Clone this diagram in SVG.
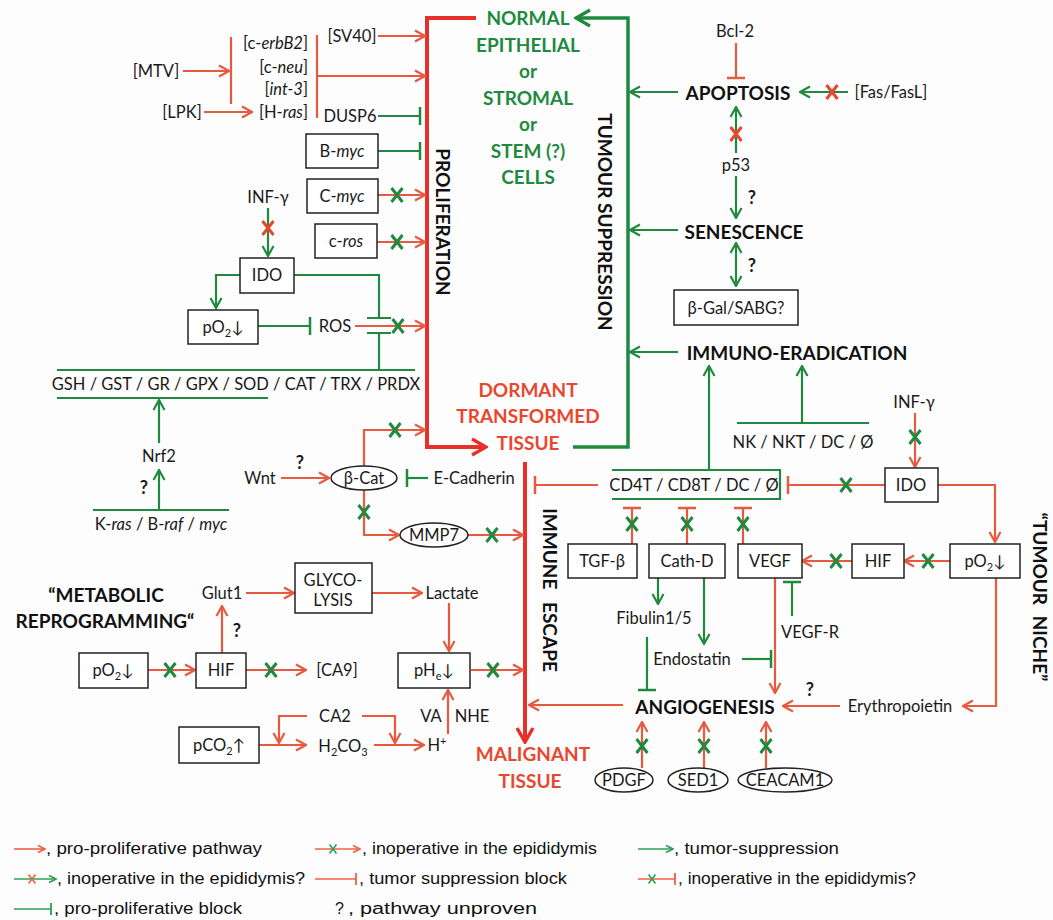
<svg xmlns="http://www.w3.org/2000/svg" width="1053" height="920" viewBox="0 0 1053 920">
<defs>
<style>
text{font-family:Lato,"Open Sans","Liberation Sans",sans-serif;font-size:16.5px;fill:#1a1a1a;dominant-baseline:central;text-anchor:middle}
.q{font-weight:bold;font-size:18px}
.hg{font-weight:bold;font-size:19px;fill:#1f8a3f}
.hr{font-weight:bold;font-size:19px;fill:#e8472f}
.hk{font-weight:bold;font-size:19px;fill:#111}
.box{fill:#fff;stroke:#222;stroke-width:1.5}
.r{stroke:#e85a40;stroke-width:2.2;fill:none}
.g{stroke:#1f8a3f;stroke-width:2.2;fill:none}
.R{stroke:#e8302a;stroke-width:4;fill:none}
.G{stroke:#1f8a3f;stroke-width:3.5;fill:none}
.lr{stroke:#f0604a;stroke-width:1.6;fill:none}
.lgg{stroke:#2aa050;stroke-width:1.6;fill:none}
.lg{font-family:"Liberation Sans",Arial,sans-serif;font-size:16px;text-anchor:start;fill:#111}
.ar{marker-end:url(#ar)}
.ag{marker-end:url(#ag)}
.br{marker-end:url(#br)}
.bg{marker-end:url(#bg)}
</style>
<marker id="ar" viewBox="0 0 14 14" refX="13" refY="7" markerWidth="14" markerHeight="14" orient="auto-start-reverse" markerUnits="userSpaceOnUse"><path d="M3,1.5 L13,7 L3,12.5" fill="none" stroke="#e85a40" stroke-width="2.2"/></marker>
<marker id="ag" viewBox="0 0 14 14" refX="13" refY="7" markerWidth="14" markerHeight="14" orient="auto-start-reverse" markerUnits="userSpaceOnUse"><path d="M3,1.5 L13,7 L3,12.5" fill="none" stroke="#1f8a3f" stroke-width="2.2"/></marker>
<marker id="AR" viewBox="0 0 20 20" refX="18" refY="10" markerWidth="20" markerHeight="20" orient="auto" markerUnits="userSpaceOnUse"><path d="M4,2 L18,10 L4,18" fill="none" stroke="#e8302a" stroke-width="3.5"/></marker>
<marker id="AG" viewBox="0 0 20 20" refX="18" refY="10" markerWidth="20" markerHeight="20" orient="auto" markerUnits="userSpaceOnUse"><path d="M4,2 L18,10 L4,18" fill="none" stroke="#1f8a3f" stroke-width="3.2"/></marker>
<marker id="br" viewBox="0 0 4 20" refX="2" refY="10" markerWidth="4" markerHeight="20" orient="auto" markerUnits="userSpaceOnUse"><path d="M2,1 V19" stroke="#e85a40" stroke-width="2.5"/></marker>
<marker id="bg" viewBox="0 0 4 20" refX="2" refY="10" markerWidth="4" markerHeight="20" orient="auto" markerUnits="userSpaceOnUse"><path d="M2,1 V19" stroke="#1f8a3f" stroke-width="2.5"/></marker>
<marker id="lar" viewBox="0 0 10 10" refX="9" refY="5" markerWidth="10" markerHeight="10" orient="auto" markerUnits="userSpaceOnUse"><path d="M2,1.5 L9,5 L2,8.5" fill="none" stroke="#f0604a" stroke-width="1.6"/></marker>
<marker id="lag" viewBox="0 0 10 10" refX="9" refY="5" markerWidth="10" markerHeight="10" orient="auto" markerUnits="userSpaceOnUse"><path d="M2,1.5 L9,5 L2,8.5" fill="none" stroke="#2aa050" stroke-width="1.6"/></marker>
<marker id="lbr" viewBox="0 0 4 14" refX="2" refY="7" markerWidth="4" markerHeight="14" orient="auto" markerUnits="userSpaceOnUse"><path d="M2,1 V13" stroke="#f0604a" stroke-width="1.8"/></marker>
<marker id="lbg" viewBox="0 0 4 14" refX="2" refY="7" markerWidth="4" markerHeight="14" orient="auto" markerUnits="userSpaceOnUse"><path d="M2,1 V13" stroke="#2aa050" stroke-width="1.8"/></marker>
<g id="gx"><path d="M-5.5,-7 L5.5,7 M5.5,-7 L-5.5,7" stroke="#1f8a3f" stroke-width="3" fill="none"/></g>
<g id="rx"><path d="M-5.5,-7 L5.5,7 M5.5,-7 L-5.5,7" stroke="#e8472f" stroke-width="3" fill="none"/></g>
<g id="sgx"><path d="M-3.5,-4.5 L3.5,4.5 M3.5,-4.5 L-3.5,4.5" stroke="#2aa050" stroke-width="1.6" fill="none"/></g>
<g id="srx"><path d="M-3.5,-4.5 L3.5,4.5 M3.5,-4.5 L-3.5,4.5" stroke="#f0604a" stroke-width="1.6" fill="none"/></g>
</defs>
<rect width="1053" height="920" fill="#fdfdfd"/>

<g id="connectors">
<path class="R" d="M476,18 H427 V447 H486" marker-end="url(#AR)"/>
<path class="R" d="M525,462 V742" marker-end="url(#AR)"/>
<path class="G" d="M573,447 H628 V18 H576" marker-end="url(#AG)"/>
<path class="g ag" d="M678,92 H630"/>
<path class="g ag" d="M678,230 H630"/>
<path class="g ag" d="M678,352 H630"/>
<path class="r br" d="M736,43 V78"/>
<path class="g ag" d="M848,92 H800"/>
<use href="#rx" x="832" y="92"/>
<path class="g ag" d="M736,153 V107"/>
<use href="#rx" x="736" y="134"/>
<path class="g ag" d="M736,176 V218"/>
<path class="g" d="M736,243 V286" marker-start="url(#ag)" marker-end="url(#ag)"/>
<path class="g ag" d="M709,469 V366"/>
<path class="g ag" d="M802,423 V366"/>
<path class="g" d="M737,423 H869"/>
<path class="g" d="M612,470 H780 V499 H612"/>
<path class="r br" d="M598,485 H535"/>
<path class="r br" d="M885,485 H788"/>
<use href="#gx" x="846" y="485"/>
<path class="r ar" d="M915,413 V467"/>
<use href="#gx" x="915" y="437"/>
<path class="r ar" d="M938,485 H995 V542"/>
<path class="r ar" d="M950,561 H904"/>
<use href="#gx" x="928" y="561"/>
<path class="r ar" d="M852,561 H802"/>
<use href="#gx" x="836" y="561"/>
<path class="r br" d="M632,544 V508"/>
<use href="#gx" x="632" y="524"/>
<path class="r br" d="M687,544 V508"/>
<use href="#gx" x="687" y="524"/>
<path class="r br" d="M743,544 V508"/>
<use href="#gx" x="743" y="524"/>
<path class="g ag" d="M658,578 V604"/>
<path class="g ag" d="M704,578 V644"/>
<path class="g bg" d="M647,637 V690"/>
<path class="g bg" d="M742,659 H771"/>
<path class="r ar" d="M775,578 V693"/>
<path class="g bg" d="M792,616 V582"/>
<path class="r ar" d="M623,705 H529"/>
<path class="r ar" d="M840,706 H783"/>
<path class="r ar" d="M996,578 V706 H963"/>
<path class="r ar" d="M642,768 V722"/>
<use href="#gx" x="642" y="746"/>
<path class="r ar" d="M704,768 V722"/>
<use href="#gx" x="704" y="746"/>
<path class="r ar" d="M766,768 V722"/>
<use href="#gx" x="766" y="746"/>
<path class="r ar" d="M378,36 H425"/>
<path class="r ar" d="M317,76 H425"/>
<path class="r" d="M317,35 V118"/>
<path class="r ar" d="M183,71 H229"/>
<path class="r" d="M231,37 V104"/>
<path class="r ar" d="M204,112 H252"/>
<path class="g bg" d="M378,116 H420"/>
<path class="g bg" d="M378,151 H420"/>
<path class="r ar" d="M378,195 H425"/>
<use href="#gx" x="397" y="195"/>
<path class="r ar" d="M377,242 H425"/>
<use href="#gx" x="397" y="242"/>
<path class="g ag" d="M268,208 V256"/>
<use href="#rx" x="268" y="228"/>
<path class="g ag" d="M240,275 H216 V308"/>
<path class="g" d="M294,275 H379 V318 M367,318 H391"/>
<path class="g" d="M379,370 V333 M367,333 H391"/>
<path class="r ar" d="M355,326 H425"/>
<use href="#gx" x="398" y="326"/>
<path class="g bg" d="M258,326 H310"/>
<path class="g" d="M57,370 H415 M57,398 H268"/>
<path class="g ag" d="M159,443 V400"/>
<path class="g ag" d="M159,510 V470"/>
<path class="g" d="M93,510 H229"/>
<path class="r ar" d="M281,478 H329"/>
<path class="g bg" d="M428,478 H407"/>
<path class="r ar" d="M364,466 V430 H425"/>
<use href="#gx" x="395" y="430"/>
<path class="r ar" d="M364,490 V535 H399"/>
<use href="#gx" x="364" y="512"/>
<path class="r ar" d="M468,535 H523"/>
<use href="#gx" x="492" y="535"/>
<path class="r ar" d="M246,593 H294"/>
<path class="r ar" d="M372,593 H422"/>
<path class="r ar" d="M449,603 V651"/>
<path class="r ar" d="M471,670 H523"/>
<use href="#gx" x="493" y="670"/>
<path class="r ar" d="M222,653 V606"/>
<path class="r ar" d="M148,670 H195"/>
<use href="#gx" x="170" y="670"/>
<path class="r ar" d="M246,670 H306"/>
<use href="#gx" x="271" y="670"/>
<path class="r ar" d="M307,716 H279 V743"/>
<path class="r ar" d="M362,716 H395 V743"/>
<path class="r ar" d="M259,745 H306"/>
<path class="r ar" d="M374,745 H424"/>
<path class="r ar" d="M448,734 V690"/>
</g>

<g id="normal-cells">
<text class="hg" x="528" y="17">NORMAL</text>
<text class="hg" x="528" y="44">EPITHELIAL</text>
<text class="hg" x="528" y="70">or</text>
<text class="hg" x="528" y="97">STROMAL</text>
<text class="hg" x="528" y="123">or</text>
<text class="hg" x="528" y="150">STEM (?)</text>
<text class="hg" x="528" y="176">CELLS</text>
</g>
<g id="proliferation"><text class="hk" transform="translate(443,222) rotate(90)">PROLIFERATION</text></g>
<g id="tumour-suppression"><text class="hk" transform="translate(605,222) rotate(90)">TUMOUR SUPPRESSION</text></g>
<g id="dormant">
<text class="hr" x="528" y="389">DORMANT</text>
<text class="hr" x="528" y="415">TRANSFORMED</text>
<text class="hr" x="528" y="442">TISSUE</text>
</g>
<g id="immune-escape"><text class="hk" transform="translate(550,590) rotate(90)" style="word-spacing:8px">IMMUNE ESCAPE</text></g>
<g id="malignant">
<text class="hr" x="533" y="753">MALIGNANT</text>
<text class="hr" x="530" y="780">TISSUE</text>
</g>

<g id="mtv"><text x="156" y="71">[MTV]</text></g>
<g id="lpk"><text x="182" y="112">[LPK]</text></g>
<g id="oncogenes">
<text x="308" y="43" style="text-anchor:end">[c-<tspan font-style="italic">erbB2</tspan>]</text>
<text x="308" y="67" style="text-anchor:end">[c-<tspan font-style="italic">neu</tspan>]</text>
<text x="308" y="89" style="text-anchor:end">[<tspan font-style="italic">int-3</tspan>]</text>
<text x="308" y="112" style="text-anchor:end">[H-<tspan font-style="italic">ras</tspan>]</text>
</g>
<g id="sv40"><text x="352" y="36">[SV40]</text></g>
<g id="dusp6"><text x="350" y="116">DUSP6</text></g>
<g id="b-myc"><rect class="box" x="306" y="134" width="72" height="34"/><text x="342" y="151">B-<tspan font-style="italic">myc</tspan></text></g>
<g id="c-myc"><rect class="box" x="307" y="179" width="71" height="34"/><text x="342" y="196">C-<tspan font-style="italic">myc</tspan></text></g>
<g id="c-ros"><rect class="box" x="315" y="224" width="62" height="34"/><text x="346" y="241">c-<tspan font-style="italic">ros</tspan></text></g>
<g id="inf-left"><text x="268" y="197">INF-γ</text></g>
<g id="ido-left"><rect class="box" x="240" y="258" width="54" height="35"/><text x="267" y="275">IDO</text></g>
<g id="po2-left"><rect class="box" x="188" y="310" width="70" height="34"/><text x="223" y="327">pO<tspan dy="5" font-size="11">2</tspan><tspan dy="-5">↓</tspan></text></g>
<g id="ros"><text x="335" y="326">ROS</text></g>
<g id="gsh"><text x="236" y="384">GSH / GST / GR / GPX / SOD / CAT / TRX / PRDX</text></g>
<g id="nrf2"><text x="159" y="456">Nrf2</text><text class="q" x="144" y="487">?</text></g>
<g id="kras"><text x="161" y="524">K-<tspan font-style="italic">ras</tspan> / B-<tspan font-style="italic">raf</tspan> / <tspan font-style="italic">myc</tspan></text></g>
<g id="wnt"><text x="260" y="478">Wnt</text><text class="q" x="300" y="462">?</text></g>
<g id="bcat"><ellipse cx="364" cy="478" rx="33" ry="12" fill="#fff" stroke="#222" stroke-width="1.5"/><text x="364" y="478">β-Cat</text></g>
<g id="ecadherin"><text x="474" y="478">E-Cadherin</text></g>
<g id="mmp7"><ellipse cx="434" cy="535" rx="34" ry="12" fill="#fff" stroke="#222" stroke-width="1.5"/><text x="434" y="535">MMP7</text></g>

<g id="metabolic">
<text class="hk" x="106" y="594">“METABOLIC</text>
<text class="hk" x="105" y="620">REPROGRAMMING“</text>
</g>
<g id="glut1"><text x="222" y="593">Glut1</text><text class="q" x="237" y="630">?</text></g>
<g id="glycolysis"><rect class="box" x="295" y="563" width="77" height="50"/><text x="333" y="580">GLYCO-</text><text x="333" y="600">LYSIS</text></g>
<g id="lactate"><text x="452" y="593">Lactate</text></g>
<g id="phe"><rect class="box" x="398" y="653" width="72" height="35"/><text x="434" y="670">pH<tspan dy="5" font-size="11">e</tspan><tspan dy="-5">↓</tspan></text></g>
<g id="po2-bottom"><rect class="box" x="79" y="653" width="69" height="35"/><text x="113" y="670">pO<tspan dy="5" font-size="11">2</tspan><tspan dy="-5">↓</tspan></text></g>
<g id="hif-left"><rect class="box" x="196" y="653" width="50" height="35"/><text x="221" y="670">HIF</text></g>
<g id="ca9"><text x="337" y="670">[CA9]</text></g>
<g id="ca2"><text x="335" y="716">CA2</text></g>
<g id="pco2"><rect class="box" x="179" y="727" width="80" height="36"/><text x="219" y="745">pCO<tspan dy="5" font-size="11">2</tspan><tspan dy="-5">↑</tspan></text></g>
<g id="h2co3"><text x="343" y="746">H<tspan dy="5" font-size="11">2</tspan><tspan dy="-5">CO</tspan><tspan dy="5" font-size="11">3</tspan></text></g>
<g id="hplus"><text x="437" y="745">H<tspan dy="-5" font-size="11">+</tspan></text></g>
<g id="va-nhe"><text x="431" y="716">VA</text><text x="472" y="716">NHE</text></g>

<g id="bcl2"><text x="735" y="31">Bcl-2</text></g>
<g id="apoptosis"><text class="hk" x="738" y="92">APOPTOSIS</text></g>
<g id="fas"><text x="891" y="92">[Fas/FasL]</text></g>
<g id="p53"><text x="736" y="165">p53</text><text class="q" x="752" y="197">?</text></g>
<g id="senescence"><text class="hk" x="744" y="231">SENESCENCE</text><text class="q" x="752" y="265">?</text></g>
<g id="bgal"><rect class="box" x="674" y="290" width="124" height="35"/><text x="736" y="308">β-Gal/SABG?</text></g>
<g id="immuno-eradication"><text class="hk" x="797" y="352">IMMUNO-ERADICATION</text></g>
<g id="nk"><text x="803" y="442">NK / NKT / DC / Ø</text></g>
<g id="inf-right"><text x="914" y="402">INF-γ</text></g>
<g id="ido-right"><rect class="box" x="885" y="468" width="53" height="34"/><text x="911" y="485">IDO</text></g>
<g id="cd4t"><text x="694" y="485">CD4T / CD8T / DC / Ø</text></g>
<g id="po2-right"><rect class="box" x="950" y="544" width="70" height="34"/><text x="985" y="561">pO<tspan dy="5" font-size="11">2</tspan><tspan dy="-5">↓</tspan></text></g>
<g id="hif-right"><rect class="box" x="852" y="544" width="52" height="34"/><text x="878" y="561">HIF</text></g>
<g id="vegf"><rect class="box" x="738" y="544" width="64" height="34"/><text x="770" y="561">VEGF</text></g>
<g id="cathd"><rect class="box" x="649" y="544" width="76" height="34"/><text x="687" y="561">Cath-D</text></g>
<g id="tgfb"><rect class="box" x="568" y="544" width="69" height="34"/><text x="602" y="561">TGF-β</text></g>
<g id="fibulin"><text x="654" y="618">Fibulin1/5</text></g>
<g id="endostatin"><text x="692" y="659">Endostatin</text></g>
<g id="vegfr"><text x="810" y="632">VEGF-R</text></g>
<g id="angiogenesis"><text class="hk" x="705" y="706">ANGIOGENESIS</text><text class="q" x="810" y="689">?</text></g>
<g id="erythropoietin"><text x="900" y="706">Erythropoietin</text></g>
<g id="pdgf"><ellipse cx="624" cy="780" rx="29" ry="12" fill="#fff" stroke="#222" stroke-width="1.5"/><text x="624" y="780">PDGF</text></g>
<g id="sed1"><ellipse cx="698" cy="780" rx="30" ry="12" fill="#fff" stroke="#222" stroke-width="1.5"/><text x="698" y="780">SED1</text></g>
<g id="ceacam1"><ellipse cx="785" cy="780" rx="47" ry="12" fill="#fff" stroke="#222" stroke-width="1.5"/><text x="785" y="780">CEACAM1</text></g>
<g id="tumour-niche"><text class="hk" transform="translate(1040,597) rotate(90)" style="word-spacing:6px">“TUMOUR NICHE”</text></g>

<g id="legend">
<path class="lr" d="M14,849 H45" marker-end="url(#lar)"/>
<text class="lg" x="46" y="848" textLength="216" lengthAdjust="spacingAndGlyphs">, pro-proliferative pathway</text>
<path class="lr" d="M315,849 H360" marker-end="url(#lar)"/>
<use href="#sgx" x="333" y="849"/>
<text class="lg" x="362" y="848" textLength="235" lengthAdjust="spacingAndGlyphs">, inoperative in the epididymis</text>
<path class="lgg" d="M638,849 H673" marker-end="url(#lag)"/>
<text class="lg" x="674" y="848" textLength="165" lengthAdjust="spacingAndGlyphs">, tumor-suppression</text>
<path class="lgg" d="M14,879 H56" marker-end="url(#lag)"/>
<use href="#srx" x="32" y="879"/>
<text class="lg" x="57" y="878" textLength="248" lengthAdjust="spacingAndGlyphs">, inoperative in the epididymis?</text>
<path class="lr" d="M315,879 H356" marker-end="url(#lbr)"/>
<text class="lg" x="359" y="878" textLength="208" lengthAdjust="spacingAndGlyphs">, tumor suppression block</text>
<path class="lr" d="M638,879 H675" marker-end="url(#lbr)"/>
<use href="#sgx" x="652" y="879"/>
<text class="lg" x="678" y="878" textLength="238" lengthAdjust="spacingAndGlyphs">, inoperative in the epididymis?</text>
<path class="lgg" d="M14,909 H51" marker-end="url(#lbg)"/>
<text class="lg" x="54" y="908" textLength="188" lengthAdjust="spacingAndGlyphs">, pro-proliferative block</text>
<text class="lg" x="335" y="908">?</text>
<text class="lg" x="348" y="908" textLength="189" lengthAdjust="spacingAndGlyphs">, pathway unproven</text>
</g>
</svg>
